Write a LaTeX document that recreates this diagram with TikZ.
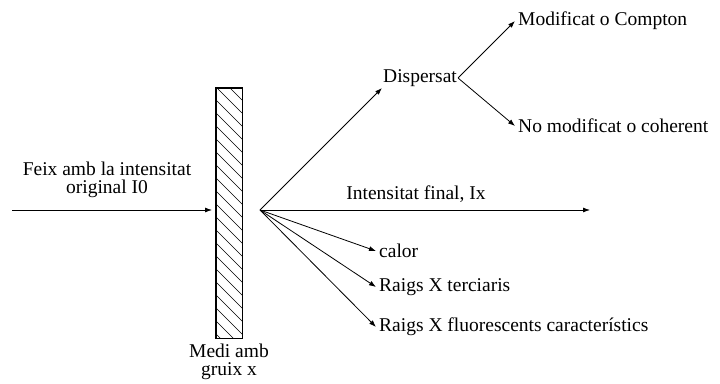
\documentclass[tikz,border=0pt]{standalone}
\usepackage{fontspec}
\setmainfont{Liberation Serif}
\newfontfamily\tms{Liberation Serif}
\usetikzlibrary{arrows.meta}
\begin{document}
\begin{tikzpicture}[x=1pt,y=-1pt,
  lbl/.style={inner sep=1pt, font=\tms\fontsize{19.5}{21}\selectfont},
  arr/.style={-{Latex[length=7pt,width=5pt]}, line width=0.8pt},
  ln/.style={line width=0.8pt}]
\useasboundingbox (0,0) rectangle (720,383);
% medium
\node[draw, line width=0.9pt, minimum width=26pt, minimum height=250pt, inner sep=0pt] (medi) at (229,213) {};
\begin{scope}
\clip (medi.south west) rectangle (medi.north east);
\foreach \k in {-30,-17,...,360} {
  \draw[line width=0.7pt] (216,\k) -- (242,\k+26);
}
\end{scope}
\draw[line width=0.9pt] (medi.south west) rectangle (medi.north east);
\node[lbl, align=center] (medilbl) at (229,362) {Medi amb\\[-3pt]gruix x};
% incoming beam
\coordinate (in0) at (12,210);
\coordinate (in1) at (212,210);
\node[lbl, align=center] (feix) at (107,180) {Feix amb la intensitat\\[-3pt]original I0};
\draw[arr] (in0) -- (in1);
% source point
\coordinate (src) at (260,210);
% scattered
\node[lbl, anchor=west] (disp) at (382,78) {Dispersat};
\node[lbl, anchor=west, inner sep=3pt] (modif) at (515,21) {Modificat o Compton};
\node[lbl, anchor=west, inner sep=3pt] (nomod) at (515,126) {No modificat o coherent};
\draw[arr] (src) -- (382,88);
\draw[arr] (disp.east) -- (modif.west);
\draw[arr] (disp.east) -- (nomod.west);
% transmitted
\coordinate (fin) at (590,210);
\draw[arr] (src) -- (fin);
\node[lbl] (intfin) at (416,194) {Intensitat final, Ix};
% other
\node[lbl, anchor=west, inner sep=3pt] (calor) at (376,251) {calor};
\node[lbl, anchor=west, inner sep=3pt] (terc) at (376,287) {Raigs X terciaris};
\node[lbl, anchor=west, inner sep=3pt] (fluor) at (376,327) {Raigs X fluorescents característics};
\draw[arr] (src) -- (calor.west);
\draw[arr] (src) -- (terc.west);
\draw[arr] (src) -- (fluor.west);
\end{tikzpicture}
\end{document}
